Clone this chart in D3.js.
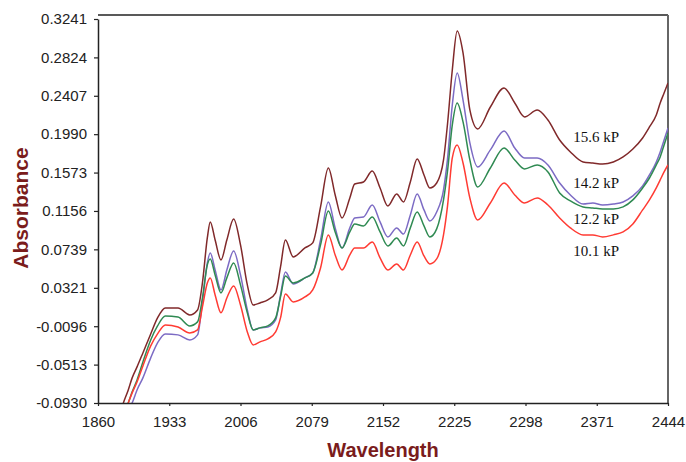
<!DOCTYPE html>
<html>
<head>
<meta charset="utf-8">
<script src="https://cdn.jsdelivr.net/npm/d3@7"></script>
<style>
  body { margin: 0; background: #fff; }
  svg { display: block; }
</style>
</head>
<body>
<div id="chart"></div>
<script>
// wavelength grid (nm) shared by all four spectra
const wavelengths = [1881, 1886, 1891, 1895, 1900, 1906, 1914, 1921, 1929, 1942, 1954, 1962, 1967, 1972,
  1975, 1980, 1986, 1992, 1999, 2006, 2013, 2019, 2026, 2034, 2042, 2047, 2052, 2060, 2072, 2080,
  2088, 2096, 2103, 2110, 2118, 2123, 2132, 2141, 2149, 2157, 2166, 2173, 2180, 2187, 2194, 2200,
  2207, 2214, 2218, 2223, 2228, 2234, 2241, 2249, 2262, 2276, 2287, 2297, 2310, 2321, 2333, 2344,
  2357, 2367, 2377, 2388, 2398, 2408, 2418, 2425, 2432, 2436, 2440, 2444];

const abs156 = [-0.1092, -0.0929, -0.0788, -0.0657, -0.0538, -0.0386, -0.0180, -0.0006, 0.0103, 0.0103,
  0.0027, 0.0081, 0.0374, 0.0863, 0.1037, 0.0841, 0.0624, 0.0841, 0.1069, 0.0787, 0.0353, 0.0135,
  0.0157, 0.0190, 0.0266, 0.0548, 0.0841, 0.0657, 0.0754, 0.0809, 0.1200, 0.1623, 0.1330, 0.1080,
  0.1297, 0.1449, 0.1471, 0.1590, 0.1406, 0.1210, 0.1341, 0.1254, 0.1471, 0.1721, 0.1547, 0.1406,
  0.1460, 0.1710, 0.2090, 0.2687, 0.3111, 0.2872, 0.2253, 0.2047, 0.2285, 0.2492, 0.2329, 0.2177,
  0.2253, 0.2144, 0.1927, 0.1797, 0.1688, 0.1677, 0.1666, 0.1688, 0.1743, 0.1829, 0.1949, 0.2068,
  0.2199, 0.2329, 0.2437, 0.2546];

const abs142 = [-0.1222, -0.1114, -0.1005, -0.0929, -0.0788, -0.0657, -0.0440, -0.0277, -0.0180, -0.0190,
  -0.0245, -0.0190, 0.0168, 0.0591, 0.0700, 0.0515, 0.0298, 0.0515, 0.0722, 0.0461, 0.0081, -0.0136,
  -0.0114, -0.0104, -0.0028, 0.0244, 0.0494, 0.0363, 0.0429, 0.0483, 0.0841, 0.1254, 0.0972, 0.0754,
  0.0972, 0.1080, 0.1091, 0.1221, 0.1037, 0.0874, 0.0972, 0.0906, 0.1113, 0.1341, 0.1167, 0.1048,
  0.1145, 0.1384, 0.1710, 0.2307, 0.2655, 0.2361, 0.1895, 0.1634, 0.1819, 0.2025, 0.1840, 0.1732,
  0.1732, 0.1656, 0.1460, 0.1330, 0.1232, 0.1243, 0.1221, 0.1232, 0.1254, 0.1319, 0.1428, 0.1547,
  0.1688, 0.1797, 0.1927, 0.2057];

const abs122 = [-0.1168, -0.1037, -0.0929, -0.0809, -0.0679, -0.0484, -0.0245, -0.0093, 0.0016, 0.0005,
  -0.0093, -0.0049, 0.0211, 0.0570, 0.0635, 0.0461, 0.0266, 0.0429, 0.0591, 0.0353, 0.0049, -0.0136,
  -0.0114, -0.0093, -0.0006, 0.0222, 0.0450, 0.0374, 0.0429, 0.0483, 0.0787, 0.1156, 0.0928, 0.0754,
  0.0928, 0.1015, 0.0993, 0.1091, 0.0928, 0.0776, 0.0863, 0.0776, 0.0972, 0.1145, 0.0993, 0.0874,
  0.0961, 0.1276, 0.1580, 0.2090, 0.2329, 0.2123, 0.1710, 0.1417, 0.1623, 0.1840, 0.1710, 0.1612,
  0.1656, 0.1580, 0.1352, 0.1265, 0.1200, 0.1189, 0.1178, 0.1178, 0.1200, 0.1276, 0.1406, 0.1514,
  0.1656, 0.1743, 0.1873, 0.2003];

const abs101 = [-0.1200, -0.1070, -0.0929, -0.0820, -0.0701, -0.0527, -0.0310, -0.0180, -0.0082, -0.0104,
  -0.0169, -0.0136, 0.0114, 0.0374, 0.0429, 0.0244, 0.0049, 0.0211, 0.0342, 0.0135, -0.0158, -0.0299,
  -0.0266, -0.0234, -0.0158, -0.0006, 0.0255, 0.0168, 0.0222, 0.0298, 0.0537, 0.0896, 0.0678, 0.0515,
  0.0678, 0.0754, 0.0754, 0.0819, 0.0646, 0.0515, 0.0581, 0.0515, 0.0678, 0.0819, 0.0667, 0.0581,
  0.0635, 0.0896, 0.1200, 0.1732, 0.1873, 0.1677, 0.1297, 0.1058, 0.1243, 0.1460, 0.1330, 0.1243,
  0.1297, 0.1221, 0.1080, 0.0972, 0.0896, 0.0896, 0.0874, 0.0896, 0.0928, 0.1015, 0.1167, 0.1276,
  0.1406, 0.1493, 0.1580, 0.1656];

const seriesNames = ["15.6 kP", "14.2 kP", "12.2 kP", "10.1 kP"];
const seriesColors = ["#80292a", "#7c6bc4", "#2f8a52", "#ff3b33"];
// where each label sits (wavelength, absorbance of baseline)
const labelWavelength = 2347;
const labelAbs = [0.1909, 0.1409, 0.1015, 0.0667];

const xTicks = [1860, 1933, 2006, 2079, 2152, 2225, 2298, 2371, 2444];
const yTicks = [-0.0930, -0.0513, -0.0096, 0.0321, 0.0739, 0.1156, 0.1573, 0.1990, 0.2407, 0.2824, 0.3241];

const margins = { top: 19, left: 98, right: 18, bottom: 59 };
const W = 686, H = 462;
const width = W - margins.left - margins.right;
const height = H - margins.top - margins.bottom;

const svg = d3.select("#chart").append("svg")
    .attr("width", W)
    .attr("height", H);

const g = svg.append("g")
    .attr("transform", "translate(" + margins.left + "," + margins.top + ")");

const x = d3.scaleLinear().domain([1860, 2444]).range([0, width]);
const y = d3.scaleLinear().domain([-0.0930, 0.3241]).range([height, 0]);

// frame (top and right edges sit a little above the top tick, like the original)
g.append("line")
    .attr("x1", 0).attr("x2", width).attr("y1", -4).attr("y2", -4)
    .attr("stroke", "#222").attr("stroke-width", 1.3);
g.append("line")
    .attr("x1", width).attr("x2", width).attr("y1", -4).attr("y2", height)
    .attr("stroke", "#666").attr("stroke-width", 2);

g.append("clipPath").attr("id", "plot-clip")
  .append("rect")
    .attr("x", 0).attr("y", -4).attr("width", width).attr("height", height + 4);

const line = d3.line()
    .x((d, i) => x(wavelengths[i]))
    .y(d => y(d))
    .curve(d3.curveMonotoneX);

const allSeries = [abs156, abs142, abs122, abs101];

g.append("g").attr("clip-path", "url(#plot-clip)")
  .selectAll("path")
  .data(allSeries)
  .enter()
  .append("path")
    .attr("d", d => line(d))
    .attr("fill", "none")
    .attr("stroke", (d, i) => seriesColors[i])
    .attr("stroke-width", 1.5);

// x axis
const xAxis = g.append("g")
    .attr("transform", "translate(0," + height + ")")
    .call(d3.axisBottom(x).tickValues(xTicks).tickFormat(d3.format("d")).tickSizeInner(3).tickSizeOuter(0).tickPadding(10));
xAxis.select(".domain").attr("stroke", "#222").attr("stroke-width", 1.5);
xAxis.selectAll(".tick line").attr("stroke", "#222").attr("stroke-width", 1.2);
xAxis.selectAll("text")
    .style("font-family", "'Liberation Sans', Arial, sans-serif")
    .style("font-size", "15px")
    .attr("fill", "#222");

// y axis (plain hyphen for the minus sign, as in the original)
const fmt4 = d3.format(".4f");
const yAxis = g.append("g")
    .call(d3.axisLeft(y).tickValues(yTicks).tickFormat(d => fmt4(d).replace("\u2212", "-")).tickSizeInner(4).tickSizeOuter(0).tickPadding(7));
yAxis.select(".domain").attr("stroke", "#222").attr("stroke-width", 1.5);
yAxis.selectAll(".tick line").attr("stroke", "#222").attr("stroke-width", 1.2);
yAxis.selectAll("text")
    .style("font-family", "'Liberation Sans', Arial, sans-serif")
    .style("font-size", "15px")
    .attr("fill", "#222");

// series labels
g.selectAll(".series-label")
  .data(seriesNames)
  .enter()
  .append("text")
    .attr("class", "series-label")
    .attr("x", x(labelWavelength))
    .attr("y", (d, i) => y(labelAbs[i]))
    .style("font-family", "'Liberation Serif', 'Times New Roman', serif")
    .style("font-size", "15px")
    .attr("fill", "#111")
    .text(d => d);

// axis titles
svg.append("text")
    .attr("x", margins.left + width / 2)
    .attr("y", 457)
    .attr("text-anchor", "middle")
    .style("font-family", "'Liberation Sans', Arial, sans-serif")
    .style("font-size", "20px")
    .style("font-weight", "bold")
    .attr("fill", "#7a1c1c")
    .text("Wavelength");

svg.append("text")
    .attr("transform", "translate(28,208) rotate(-90)")
    .attr("text-anchor", "middle")
    .style("font-family", "'Liberation Sans', Arial, sans-serif")
    .style("font-size", "21px")
    .style("font-weight", "bold")
    .attr("fill", "#7a1c1c")
    .text("Absorbance");
</script>
</body>
</html>
